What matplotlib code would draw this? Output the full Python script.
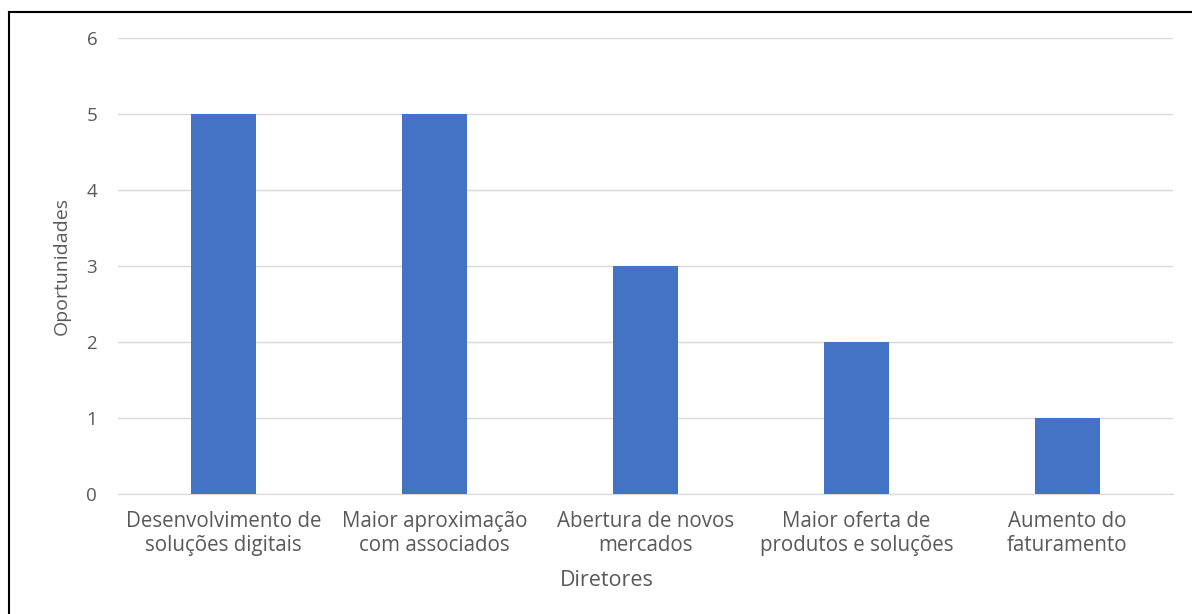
import matplotlib
matplotlib.use("Agg")
import matplotlib.pyplot as plt
from matplotlib.lines import Line2D

categories = ["Desenvolvimento de\nsoluções digitais", "Maior aproximação\ncom associados",
              "Abertura de novos\nmercados", "Maior oferta de\nprodutos e soluções",
              "Aumento do\nfaturamento"]
values = [5, 5, 3, 2, 1]
yticks = [0, 1, 2, 3, 4, 5, 6]

plt.rcParams['font.family'] = ['Open Sans', 'DejaVu Sans']
W, H = 1192, 614
fig = plt.figure(figsize=(W/100, H/100), dpi=100)
ax = fig.add_axes([118/W, 1-494/H, (1173-118)/W, (494-38)/H])

x = list(range(len(categories)))
ax.bar(x, values, width=0.31, color="#4472C4", zorder=3)
ax.set_xlim(-0.5, len(categories)-0.5)
ax.set_ylim(0, 6)
ax.set_yticks(yticks)
ax.set_xticks(x)
ax.set_xticklabels(categories, fontsize=14.8, color="#595959", linespacing=1.22)
ax.tick_params(axis='y', labelsize=13.5, labelcolor="#595959", length=0, pad=15)
ax.tick_params(axis='x', length=0, pad=12)
ax.grid(axis='y', color="#d9d9d9", linewidth=1, zorder=0)
for s in ["top", "right", "left"]:
    ax.spines[s].set_visible(False)
ax.spines["bottom"].set_color("#d9d9d9")
ax.set_ylabel("Oportunidades", fontsize=14, color="#595959")
ax.yaxis.set_label_coords((62-118)/(1173-118), 0.5)
ax.yaxis.label.set_va("center")
fig.text(607/W, 1-581/H, "Diretores", fontsize=15.5, color="#595959", ha="center", va="center")

# outer border (left and top)
fig.add_artist(Line2D([9/W, 9/W], [0, 1-12/H], color="black", linewidth=1.5, transform=fig.transFigure))
fig.add_artist(Line2D([9/W, 1], [1-12/H, 1-12/H], color="black", linewidth=1.5, transform=fig.transFigure))

fig.savefig("out.png", dpi=100, facecolor="white")
